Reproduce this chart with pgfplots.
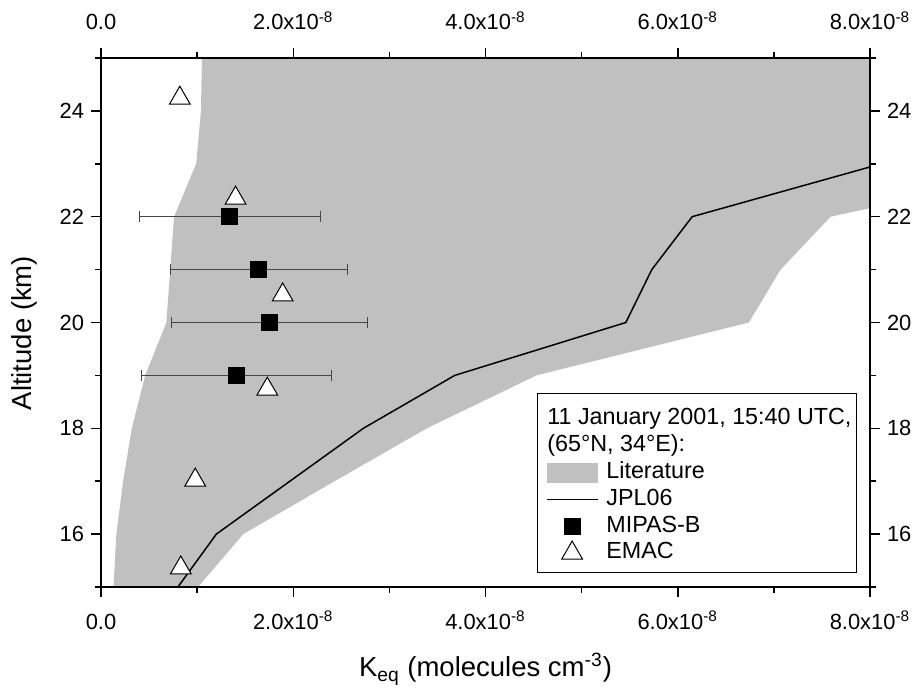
\documentclass[border=0pt]{standalone}
\usepackage{fontspec}
\setmainfont{Liberation Sans}
\usepackage{pgfplots}
\pgfplotsset{compat=1.18}
\definecolor{litgray}{RGB}{192,192,192}
\definecolor{errgray}{RGB}{70,70,70}
\pgfplotsset{
  common/.style={
    scale only axis, width=384.5bp, height=264.5bp,
    xmin=0, xmax=8, ymin=15, ymax=25,
    xtick={0,2,4,6,8},
    xticklabels={0.0,{2.0x10\textsuperscript{-8}},{4.0x10\textsuperscript{-8}},{6.0x10\textsuperscript{-8}},{8.0x10\textsuperscript{-8}}},
    minor xtick={1,3,5,7},
    ytick={16,18,20,22,24}, minor ytick={15,17,19,21,23,25},
    tick align=outside, major tick length=5bp, minor tick length=3bp,
    every tick/.style={black, line width=0.75bp},
    axis line style={black, line width=1bp},
    tick label style={font=\fontsize{11}{13}\selectfont},
    /pgf/number format/assume math mode=true,
  },
  mylinelegend/.style={legend image code/.code={\draw[##1] (0bp,0bp) -- (25.5bp,0bp);}},
  mymarklegend/.style={legend image code/.code={\draw[mark repeat=2,mark phase=2,##1] plot coordinates {(0bp,0bp) (12.75bp,0bp) (25.5bp,0bp)};}},
  myarealegend/.style={legend image code/.code={\fill[##1] (0bp,-5bp) rectangle (25.5bp,5bp);}},
  noimage/.style={legend image code/.code={\path[draw=none,fill=none] (-3bp,0bp) -- (0bp,0bp);}},
}
\begin{document}
\begin{tikzpicture}
\begin{axis}[common, name=ax,
  xticklabel pos=lower, yticklabel pos=left,
  xticklabel style={anchor=base, yshift=-16bp},
  xlabel={K\textsubscript{eq} (molecules cm\textsuperscript{-3})},
  ylabel={Altitude (km)},
  every axis x label/.style={at={(axis description cs:0.5,-0.170)}, anchor=base, font=\fontsize{13.8}{16}\selectfont},
  every axis y label/.style={at={(axis description cs:-0.100,0.48)}, rotate=90, anchor=center, font=\fontsize{13.8}{16}\selectfont},
  legend style={at={(axis description cs:1,0)}, anchor=south east, xshift=-6.5bp, yshift=7bp,
    draw=black, line width=0.5bp, fill=white, font=\fontsize{11.7}{14}\selectfont,
    inner xsep=1.5bp, inner ysep=3bp, row sep=0pt, column sep=3bp,
    nodes={inner sep=1bp, text height=8.6bp, text depth=2.8bp}},
  legend cell align=left,
]
\addlegendimage{noimage}
\addlegendentry[text height=11.6bp]{\hspace{-29.5bp}11 January 2001, 15:40 UTC,}
\addlegendimage{noimage}
\addlegendentry{\hspace{-29.5bp}(65°N, 34°E):}

% Literature range
\addplot[fill=litgray, draw=none, myarealegend] coordinates {
  (0.13,15) (0.16,16) (0.23,17) (0.32,18) (0.46,19) (0.68,20) (0.72,21)
  (0.76,22) (0.99,23) (1.04,24) (1.05,25)
  (8,25) (8,22.16) (7.59,22) (7.07,21) (6.74,20) (4.53,19) (3.39,18)
  (2.43,17) (1.48,16) (1.01,15)
} -- cycle;
\addlegendentry{Literature}

% JPL06
\addplot[black, line width=0.75bp, mylinelegend] coordinates {
  (0.80,15) (1.20,16) (1.965,17) (2.73,18) (3.68,19) (5.46,20) (5.73,21) (6.15,22) (8,22.94)
};
\addlegendentry{JPL06}

% MIPAS-B
\addplot[black, only marks, mark=square*, mark size=4bp, mymarklegend,
  error bars/.cd, x dir=both, x explicit,
  error bar style={errgray, line width=0.5bp},
  error mark options={errgray, rotate=90, mark size=2.75bp, line width=0.5bp}]
coordinates {
  (1.34,22) +- (0.94,0)
  (1.64,21) +- (0.92,0)
  (1.75,20) +- (1.02,0)
  (1.41,19) +- (0.99,0)
};
\addlegendentry{MIPAS-B}

% EMAC
\addplot[black, only marks, mark=triangle*, mark size=6bp, mymarklegend,
  mark options={fill=white, draw=black, line width=0.5bp}]
coordinates {
  (0.82,24.24) (1.40,22.35) (1.89,20.52) (1.73,18.74) (0.98,17.02) (0.83,15.36)
};
\addlegendentry{EMAC}
\end{axis}
\begin{axis}[common, xticklabel pos=upper, yticklabel pos=right,
  xticklabel style={anchor=base, yshift=9bp}]
\end{axis}
\pgfresetboundingbox
\path ([xshift=-50.5bp,yshift=-51bp]ax.south west) rectangle ([xshift=23bp,yshift=29bp]ax.north east);
\end{tikzpicture}
\end{document}
